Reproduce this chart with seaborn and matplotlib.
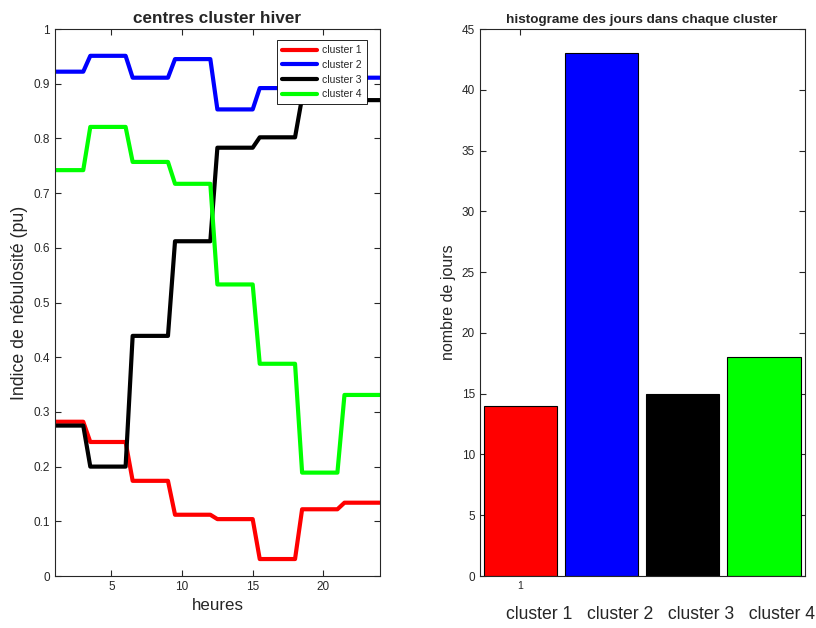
import numpy as np
import pandas as pd
import seaborn as sns
import matplotlib.pyplot as plt

# -------------------- DONNEES --------------------
heures = np.arange(1, 24.5, 0.5)   # pas d'une demi-heure, 47 points

cluster1 = [0.282] * 5 + \
    [0.245] * 6 + [0.174] * 6 + [0.112] * 6 + [0.104] * 6 + \
    [0.031] * 6 + [0.122] * 6 + [0.134] * 6
cluster2 = [0.922] * 5 + \
    [0.951] * 6 + [0.911] * 6 + [0.945] * 6 + [0.853] * 6 + \
    [0.892] * 6 + [0.905] * 6 + [0.911] * 6
cluster3 = [0.275] * 5 + \
    [0.200] * 6 + [0.439] * 6 + [0.612] * 6 + [0.783] * 6 + \
    [0.802] * 6 + [0.875] * 6 + [0.870] * 6
cluster4 = [0.742] * 5 + \
    [0.821] * 6 + [0.757] * 6 + [0.717] * 6 + [0.533] * 6 + \
    [0.388] * 6 + [0.189] * 6 + [0.331] * 6

noms = ["cluster 1", "cluster 2", "cluster 3", "cluster 4"]
couleurs = ["#ff0000", "#0000ff", "#000000", "#00ff00"]
nb_jours = [14, 43, 15, 18]

# -------------------- STYLE --------------------
sns.set_style("ticks")
plt.rcParams['font.family'] = ['Liberation Sans', 'DejaVu Sans']
gris = "#262626"
plt.rcParams.update({
    "axes.edgecolor": gris, "xtick.color": gris, "ytick.color": gris,
    "axes.linewidth": 0.8, "xtick.direction": "in", "ytick.direction": "in",
    "xtick.top": True, "ytick.right": True,
    "xtick.major.size": 4, "ytick.major.size": 4,
})

df = pd.DataFrame({
    "heure": np.tile(heures, 4),
    "valeur": cluster1 + cluster2 + cluster3 + cluster4,
    "cluster": np.repeat(noms, len(heures)),
})
df_hist = pd.DataFrame({"cluster": noms, "jours": nb_jours})

fig = plt.figure(figsize=(8.16, 6.28), dpi=100)
ax1 = fig.add_axes([0.0674, 0.0828, 0.398, 0.871])
ax2 = fig.add_axes([0.588, 0.0828, 0.398, 0.871])

# Courbes des centres
sns.lineplot(data=df, x="heure", y="valeur", hue="cluster", palette=couleurs,
             estimator=None, linewidth=3, ax=ax1)
ax1.set_xlim(1, 24)
ax1.set_ylim(0, 1)
ax1.set_xticks([5, 10, 15, 20])
ax1.set_yticks(np.arange(0, 1.01, 0.1))
ax1.set_yticklabels(["0", "0.1", "0.2", "0.3", "0.4", "0.5", "0.6", "0.7", "0.8", "0.9", "1"])
ax1.tick_params(labelsize=8.5)
ax1.set_title("centres cluster hiver", fontsize=12.3, fontweight="bold", pad=4)
ax1.set_xlabel("heures", fontsize=12.2)
ax1.set_ylabel("Indice de nébulosité (pu)", fontsize=12.8)
handles, labels = ax1.get_legend_handles_labels()
leg = ax1.legend(handles, labels, loc="upper right", bbox_to_anchor=(0.96, 0.98),
                 borderaxespad=0, fontsize=7.5, handlelength=3.3, handletextpad=0.5,
                 fancybox=False, framealpha=1, edgecolor="black",
                 borderpad=0.5, labelspacing=0.45)
leg.get_frame().set_linewidth(0.6)

# Histogramme
sns.barplot(data=df_hist, x="cluster", y="jours", hue="cluster", palette=couleurs,
            saturation=1, width=0.9, edgecolor="black", linewidth=0.8,
            legend=False, ax=ax2)
ax2.set_xlim(-0.5, 3.5)
ax2.set_ylim(0, 45)
ax2.set_xticks([0])
ax2.set_xticklabels(["1"], fontsize=7.5)
ax2.set_yticks(range(0, 46, 5))
ax2.tick_params(axis="y", labelsize=8.5)
ax2.set_title("histograme des jours dans chaque cluster", fontsize=9.7,
              fontweight="bold", pad=4)
ax2.set_ylabel("nombre de jours", fontsize=11.5)
ax2.set_xlabel("cluster 1   cluster 2   cluster 3   cluster 4", fontsize=12.7)
ax2.xaxis.set_label_coords(0.555, -0.055)

fig.savefig("out.png", dpi=100)
